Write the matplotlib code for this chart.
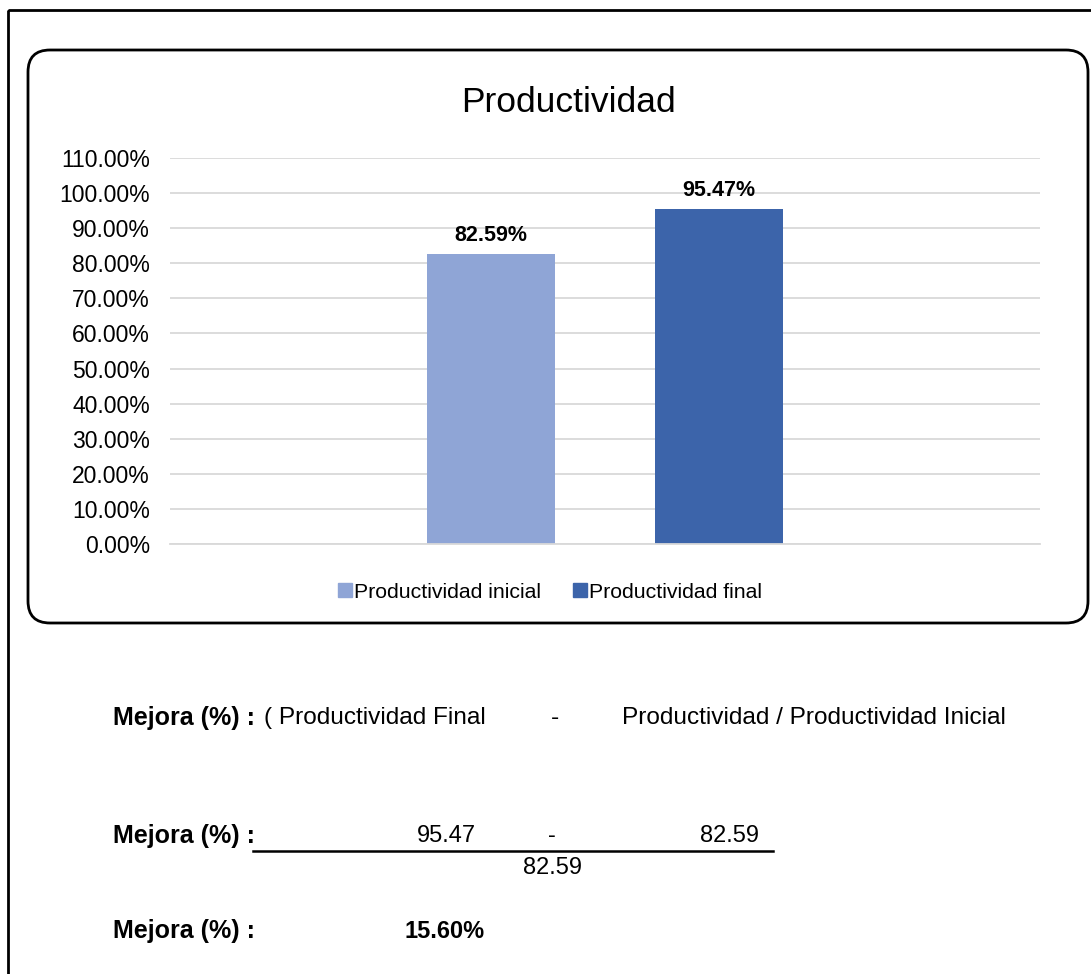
import numpy as np
import matplotlib
matplotlib.use('Agg')
import matplotlib.pyplot as plt
from matplotlib.patches import FancyBboxPatch, Rectangle, Patch

plt.rcParams['font.family'] = ['Liberation Sans', 'DejaVu Sans']

series = ['Productividad inicial', 'Productividad final']
values = [82.59, 95.47]
colors = ['#8FA5D6', '#3C64AA']
yticks = np.arange(0, 111, 10)

W, H = 1091, 974
fig = plt.figure(figsize=(W / 100, H / 100), dpi=100)

# background layer in pixel units (frames + formula text)
bg = fig.add_axes([0, 0, 1, 1], zorder=0)
bg.set_xlim(0, W)
bg.set_ylim(H, 0)
bg.axis('off')
bg.add_patch(Rectangle((8, 10), W + 20, H + 20, fill=False, lw=2, ec='black'))
bg.add_patch(FancyBboxPatch((28, 50), 1060, 573,
                            boxstyle='round,pad=0,rounding_size=22',
                            fill=True, fc='white', lw=2, ec='black'))

# chart
ax = fig.add_axes([170 / W, 1 - 544 / H, 870 / W, 386 / H], zorder=1)
ax.patch.set_alpha(0)
x = np.array([-0.5, 0.5])
bars = ax.bar(x, values, width=0.563, color=colors, zorder=2)
for xi, v in zip(x, values):
    ax.text(xi, v + 2.2, f'{v:.2f}%', ha='center', va='bottom',
            fontsize=15.5, fontweight='bold')
ax.set_xlim(-1.912, 1.912)
ax.set_ylim(0, 110)
ax.set_yticks(yticks)
ax.set_yticklabels([f'{t:.2f}%' for t in yticks], fontsize=16.5)
ax.yaxis.grid(True, color='#D9D9D9', lw=1.3, zorder=0)
ax.tick_params(length=0, pad=14.5)
ax.set_xticks([])
for s in ['top', 'right', 'left']:
    ax.spines[s].set_visible(False)
ax.spines['bottom'].set_color('#D9D9D9')
ax.spines['bottom'].set_linewidth(1.3)

bg.text(569, 103, 'Productividad', ha='center', va='center', fontsize=25.5)

handles = [Patch(color=c) for c in colors]
fig.legend(handles, series, loc='center', bbox_to_anchor=(550 / W, 1 - 592 / H),
           ncol=2, frameon=False, fontsize=15.3, handlelength=0.65,
           handleheight=0.65, handletextpad=0.12, columnspacing=1.5)

# formula section
fb = 18
fr = 17.6
fn = 17
bg.text(113, 718, 'Mejora (%) :', fontsize=fb, fontweight='bold', va='center')
bg.text(264, 718, '( Productividad Final', fontsize=fr, va='center')
bg.text(555, 718, '-', fontsize=fr, va='center', ha='center')
bg.text(622, 718, 'Productividad / Productividad Inicial', fontsize=fr, va='center')

bg.text(113, 836, 'Mejora (%) :', fontsize=fb, fontweight='bold', va='center')
bg.text(446.5, 836, f'{values[1]:.2f}', fontsize=fn, va='center', ha='center')
bg.text(552, 836, '-', fontsize=fn, va='center', ha='center')
bg.text(759, 836, f'{values[0]:.2f}', fontsize=fn, va='center', ha='right')
bg.plot([253, 773], [851, 851], color='black', lw=1.8)
bg.text(552.5, 868, f'{values[0]:.2f}', fontsize=fn, va='center', ha='center')

mejora = (values[1] - values[0]) / values[0] * 100
bg.text(113, 931, 'Mejora (%) :', fontsize=fb, fontweight='bold', va='center')
bg.text(405, 931, f'{mejora:.2f}%', fontsize=fn, fontweight='bold', va='center')

fig.savefig('out.png', dpi=100)
